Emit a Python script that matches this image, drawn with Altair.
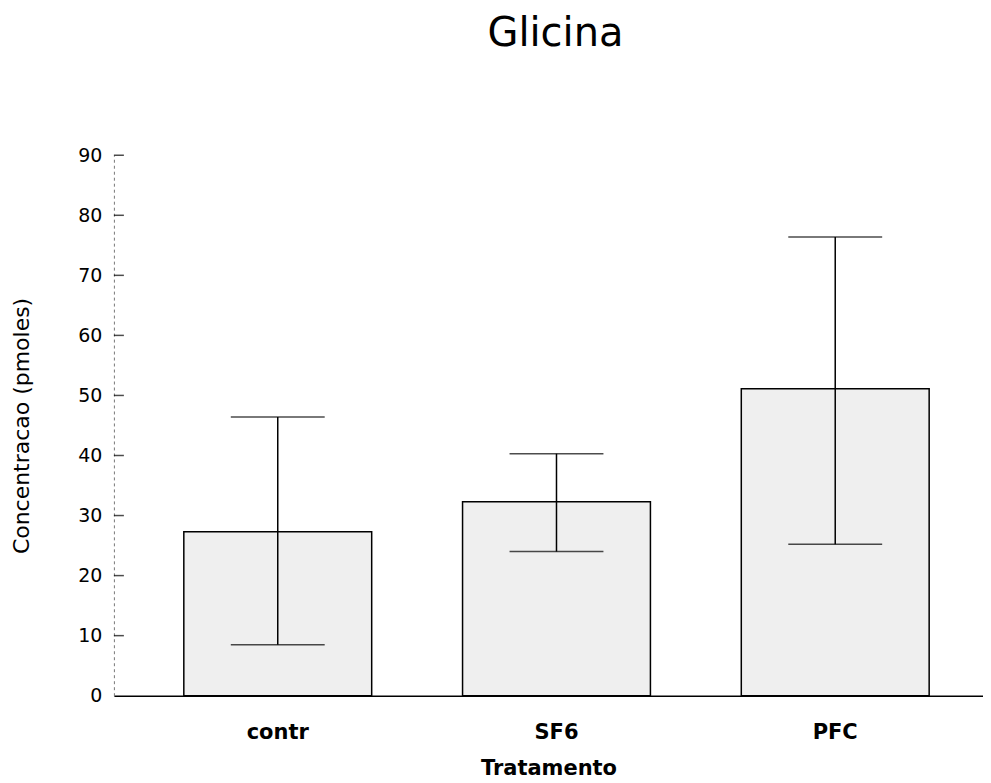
import altair as alt
import pandas as pd

categories = ["contr", "SF6", "PFC"]
means = [27.3, 32.3, 51.1]
err_low = [8.5, 24.0, 25.2]
err_high = [46.4, 40.3, 76.4]
y_ticks = [0, 10, 20, 30, 40, 50, 60, 70, 80, 90]
inner_ticks = [10, 20, 30, 40, 50, 60, 70, 80, 90]

df = pd.DataFrame({"Tratamento": categories, "mean": means, "lo": err_low, "hi": err_high})
tick_df = pd.DataFrame({"v": inner_ticks})

FONT = "DejaVu Sans"
W, H = 870, 541

xscale = alt.Scale(domain=categories, paddingInner=0.326, paddingOuter=0.222, align=0.565)
yscale = alt.Scale(domain=[0, 90], nice=False)

x_axis = alt.Axis(title="Tratamento", labelAngle=0, tickSize=0, labelPadding=26,
                  titlePadding=15, labelFontSize=21, titleFontSize=21,
                  labelFontWeight="bold", titleFontWeight="bold",
                  labelFont=FONT, titleFont=FONT, labelColor="black", titleColor="black",
                  domainColor="black", domainWidth=1.5, grid=False)
y_axis = alt.Axis(title="Concentracao (pmoles)", values=y_ticks, tickSize=0, labelPadding=12,
                  titlePadding=44, labelFontSize=19, titleFontSize=22,
                  titleFontWeight="normal", labelFont=FONT, titleFont=FONT,
                  labelColor="black", titleColor="black", domainColor="#777777",
                  domainDash=[3, 3], domainWidth=1, grid=False)

X = alt.X("Tratamento:N", scale=xscale, sort=categories, axis=x_axis)

base = alt.Chart(df)

bars = base.mark_bar(fill="#efefef", stroke="black", strokeWidth=1.5).encode(
    x=X,
    y=alt.Y("mean:Q", scale=yscale, axis=y_axis),
)

rules = base.mark_rule(color="black", strokeWidth=1.5).encode(
    x=X,
    y=alt.Y("lo:Q", scale=yscale, axis=y_axis),
    y2="hi:Q",
)

cap_hi = base.mark_tick(color="black", thickness=1.5, size=94).encode(
    x=X,
    y=alt.Y("hi:Q", scale=yscale, axis=y_axis),
)
cap_lo = base.mark_tick(color="black", thickness=1.5, size=94).encode(
    x=X,
    y=alt.Y("lo:Q", scale=yscale, axis=y_axis),
)

inward = alt.Chart(tick_df).mark_tick(color="black", thickness=1.5, size=10, orient="horizontal").encode(
    x=alt.value(5),
    y=alt.Y("v:Q", scale=yscale, axis=y_axis),
)

chart = alt.layer(bars, rules, cap_hi, cap_lo, inward).properties(
    width=W, height=H,
    title=alt.TitleParams("Glicina", fontSize=40, font=FONT, fontWeight="normal", color="black",
                          offset=92, anchor="middle", dx=7),
).configure(
    padding={"left": 2, "top": 6, "right": 0, "bottom": 5}
).configure_view(stroke=None).configure_axis(grid=False)

chart.save("out.html", embed_options={"renderer": "svg", "actions": False})
